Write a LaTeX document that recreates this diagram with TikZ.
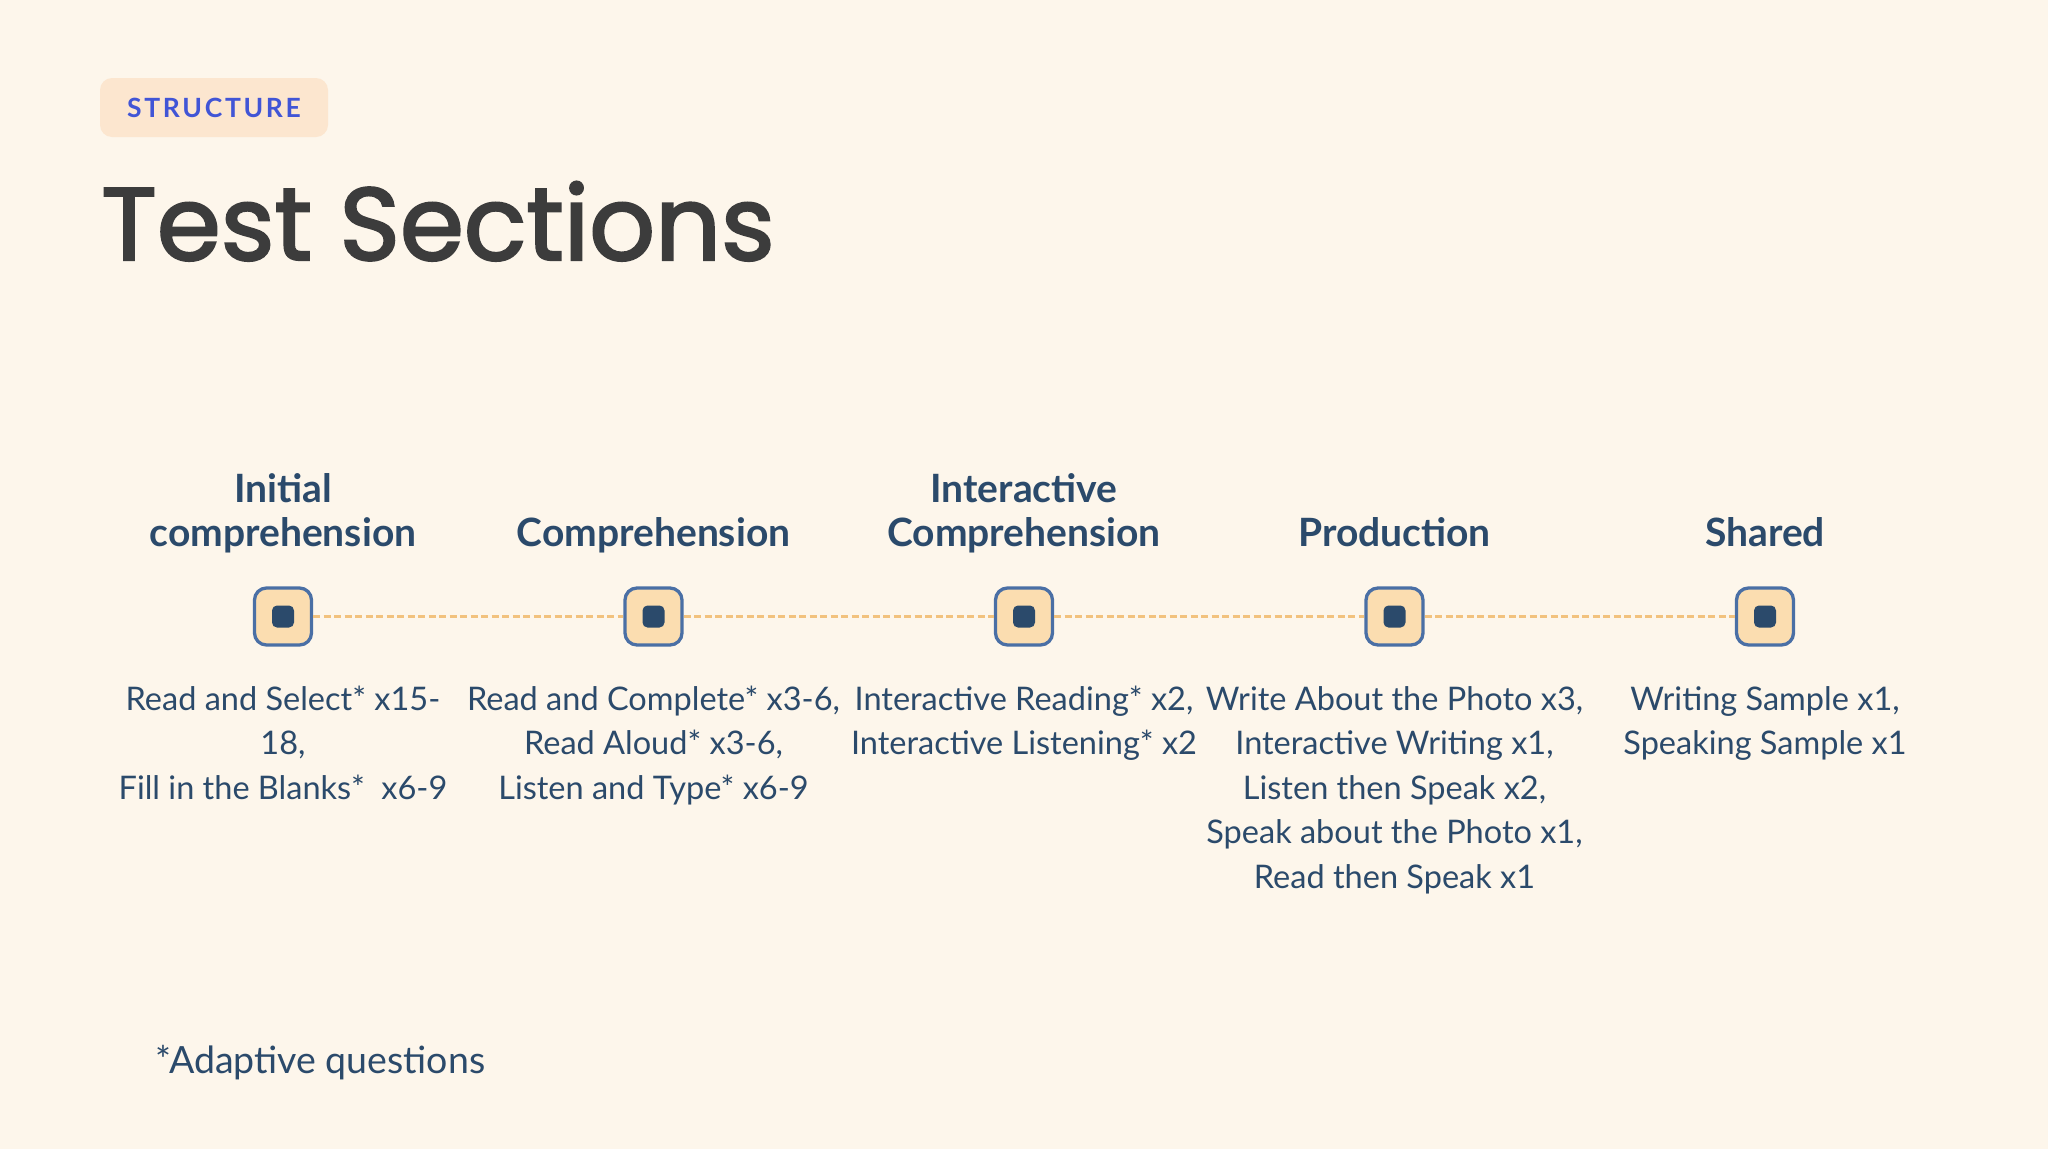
\documentclass[tikz,border=0pt]{standalone}
\usepackage{fontspec}
\setmainfont{Lato}
\newfontfamily\titlefont[FakeBold=2.2]{Poppins}
\newfontfamily\badgefont[LetterSpace=10]{Lato}
\newcommand\firstln{\rule{0pt}{1em}}
\definecolor{bg}{HTML}{FDF6EB}
\definecolor{badgefill}{HTML}{FCE6CF}
\definecolor{badgetext}{HTML}{4155D6}
\definecolor{titlecol}{HTML}{3C3C3C}
\definecolor{navy}{HTML}{2B4A6B}
\definecolor{iconborder}{HTML}{4A6FA5}
\definecolor{iconfill}{HTML}{FBDDB0}
\definecolor{dashcol}{HTML}{F2C27E}
\tikzset{
  icon/.style={draw=iconborder, line width=3.3pt, fill=iconfill, rounded corners=12pt, minimum size=57pt, inner sep=0pt},
  dot/.style={fill=navy, rounded corners=5pt, minimum size=22pt, inner sep=0pt},
  dashline/.style={draw=dashcol, line width=3pt, dash pattern=on 7pt off 3.5pt},
  head/.style={text=navy, font={\fontsize{39}{44}\selectfont\bfseries}, align=center, inner sep=0pt, anchor=north},
  desc/.style={text=navy, font={\fontsize{32.5}{44.5}\selectfont}, align=center, inner sep=0pt, anchor=north},
  foot/.style={text=navy, font={\fontsize{37.5}{42}\selectfont}, inner sep=0pt, anchor=base west},
  badge/.style={fill=badgefill, rounded corners=12pt, minimum width=228pt, minimum height=59pt, inner sep=0pt, text=badgetext, font={\badgefont\fontsize{26.5}{30}\selectfont\bfseries}},
}
\begin{document}
\begin{tikzpicture}[x=1pt, y=-1pt]
\fill[bg] (0,0) rectangle (2048,1149);
\useasboundingbox (0,0) rectangle (2048,1149);
\node[badge] (b) at (214,107.5) {STRUCTURE};
\node[anchor=base west, inner sep=0pt, text=titlecol, font={\titlefont\fontsize{103}{120}\selectfont}] (title) at (101,260) {Test Sections};
% icons
\foreach \i/\x in {1/283,2/653.5,3/1024,4/1394.5,5/1765}{
  \node[icon] (n\i) at (\x,616.5) {};
  \node[dot] (d\i) at (n\i.center) {};
}
\draw[dashline] (n1.east) -- (n2.west);
\draw[dashline] (n2.east) -- (n3.west);
\draw[dashline] (n3.east) -- (n4.west);
\draw[dashline] (n4.east) -- (n5.west);
% headings (north = first baseline - 1em)
\node[head] (h1) at (283,463) {\firstln Initial\\comprehension};
\node[head] (h2) at (653.5,507) {\firstln Comprehension};
\node[head] (h3) at (1024,463) {\firstln Interactive\\Comprehension};
\node[head] (h4) at (1394.5,507) {\firstln Production};
\node[head] (h5) at (1765,507) {\firstln Shared};
% descriptions
\node[desc] (t1) at (283,677.5) {\firstln Read and Select* x15-\\18,\\Fill in the Blanks*\ \ x6-9};
\node[desc] (t2) at (653.5,677.5) {\firstln Read and Complete* x3-6,\\Read Aloud* x3-6,\\Listen and Type* x6-9};
\node[desc] (t3) at (1024,677.5) {\firstln Interactive Reading* x2,\\Interactive Listening* x2};
\node[desc] (t4) at (1394.5,677.5) {\firstln Write About the Photo x3,\\Interactive Writing x1,\\Listen then Speak x2,\\Speak about the Photo x1,\\Read then Speak x1};
\node[desc] (t5) at (1765,677.5) {\firstln Writing Sample x1,\\Speaking Sample x1};
\node[foot] (fn) at (155,1073) {*Adaptive questions};
\end{tikzpicture}
\end{document}
